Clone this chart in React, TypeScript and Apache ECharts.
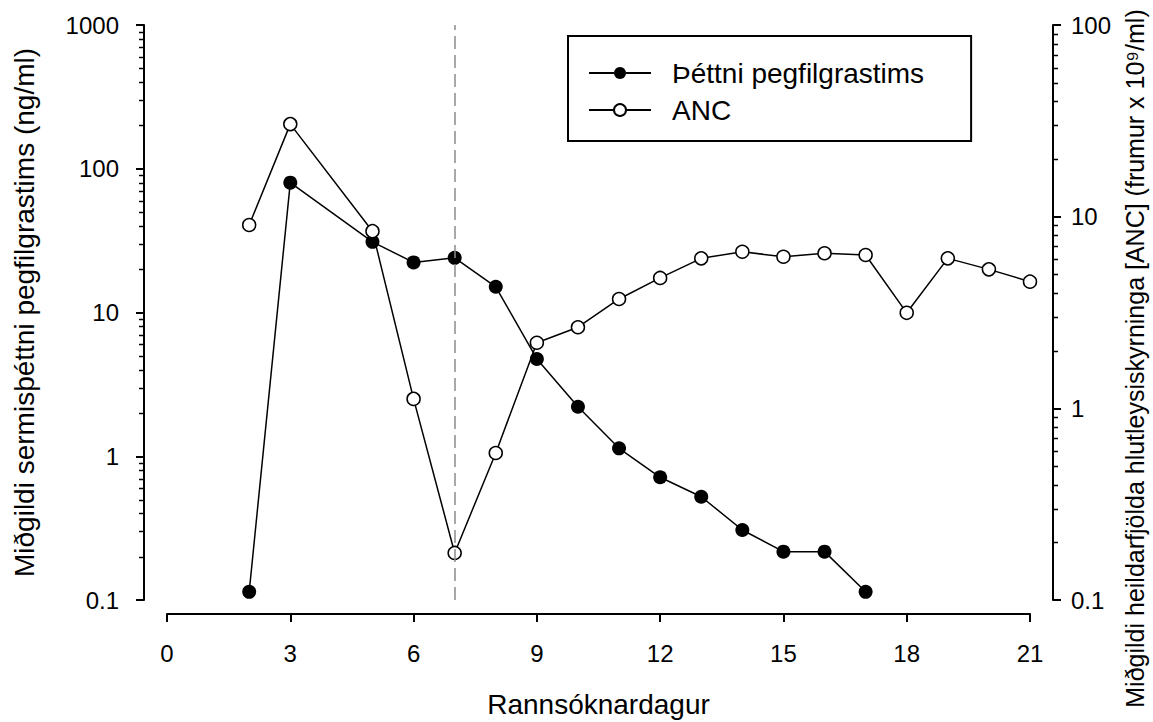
import { useEffect, useRef } from "react";
import * as echarts from "echarts";

// Study day (x) and medians
const pegDays = [2, 3, 5, 6, 7, 8, 9, 10, 11, 12, 13, 14, 15, 16, 17];
const pegValues = [0.114, 80, 31, 22.3, 24, 15.1, 4.75, 2.21, 1.135, 0.714, 0.523, 0.307, 0.217, 0.217, 0.114];

const ancDays = [2, 3, 5, 6, 7, 8, 9, 10, 11, 12, 13, 14, 15, 16, 17, 18, 19, 20, 21];
const ancValues = [9.05, 30.4, 8.4, 1.12, 0.176, 0.585, 2.2, 2.65, 3.72, 4.79, 6.06, 6.56, 6.18, 6.44, 6.31, 3.15, 6.06, 5.31, 4.58];

const pegName = "Þéttni pegfilgrastims";
const ancName = "ANC";
const xTitle = "Rannsóknardagur";
const leftTitle = "Miðgildi sermisþéttni pegfilgrastims (ng/ml)";
const rightTitle = "Miðgildi heildarfjölda hlutleysiskyrninga [ANC] (frumur x 10⁹/ml)";

const xMin = 0;
const xMax = 21;
const xInterval = 3;
const referenceDay = 7;

const leftMin = 0.1;
const leftMax = 1000;
const rightMin = 0.1;
const rightMax = 100;
const leftDecades = [0.1, 1, 10, 100];
const rightDecades = [0.1, 1, 10];
const minorMultipliers = [2, 3, 4, 5, 6, 7, 8, 9];

const FONT = '"Liberation Sans", Arial, sans-serif';
const Y_OFFSET = 23;

function minorValues(decades: number[]) {
  const out: number[][] = [];
  decades.forEach((d) => minorMultipliers.forEach((m) => out.push([0, Number((d * m).toPrecision(6))])));
  return out;
}

function fmt(v: number) {
  return String(Number(Number(v).toPrecision(6)));
}

export default function App() {
  const ref = useRef<HTMLDivElement>(null);
  useEffect(() => {
    if (!ref.current) return;
    const chart = echarts.init(ref.current, null, { renderer: "svg" });
    const minorTick = (side: "left" | "right") => (params: any, api: any) => {
      const y = Math.round(api.coord([0, api.value(1)])[1]) + 0.5;
      const cs = params.coordSys;
      if (side === "left") {
        const x0 = cs.x - Y_OFFSET;
        return { type: "line", shape: { x1: x0 - 5, y1: y, x2: x0 + 1, y2: y }, style: { stroke: "#000", lineWidth: 1.5 }, silent: true, z2: 10 };
      }
      const x0 = cs.x + cs.width + Y_OFFSET;
      return { type: "line", shape: { x1: x0 - 1, y1: y, x2: x0 + 5, y2: y }, style: { stroke: "#000", lineWidth: 1.5 }, silent: true, z2: 10 };
    };
    const option: any = {
      animation: false,
      backgroundColor: "#fff",
      textStyle: { fontFamily: FONT, color: "#000" },
      grid: { left: 167, right: 123, top: 25, bottom: 122, outerBoundsMode: "none", containLabel: false },
      legend: {
        data: [pegName, ancName],
        orient: "vertical",
        left: 568,
        top: 36,
        itemWidth: 62,
        itemHeight: 15,
        itemGap: 9,
        padding: [23, 47, 17, 20],
        borderColor: "#000",
        borderWidth: 2,
        textStyle: { fontSize: 28, color: "#000", fontFamily: FONT, padding: [0, 0, 0, 16] },
      },
      xAxis: {
        type: "value",
        min: xMin,
        max: xMax,
        interval: xInterval,
        offset: 14,
        name: xTitle,
        nameLocation: "middle",
        nameGap: 76,
        nameTextStyle: { fontSize: 28, color: "#000", fontFamily: FONT },
        axisLine: { show: true, onZero: false, lineStyle: { color: "#000", width: 2 } },
        axisTick: { show: true, length: 8, inside: false, lineStyle: { color: "#000", width: 2 } },
        axisLabel: { fontSize: 24, color: "#000", margin: 27, fontFamily: FONT },
        splitLine: { show: false },
      },
      yAxis: [
        {
          type: "log",
          logBase: 10,
          min: leftMin,
          max: leftMax,
          position: "left",
          offset: Y_OFFSET,
          name: leftTitle,
          nameLocation: "middle",
          nameGap: 106,
          nameTextStyle: { fontSize: 28, color: "#000", fontFamily: FONT },
          axisLine: { show: true, onZero: false, lineStyle: { color: "#000", width: 2 } },
          axisTick: { show: true, length: 8, inside: false, lineStyle: { color: "#000", width: 2 } },
          axisLabel: { fontSize: 24, color: "#000", margin: 25, fontFamily: FONT, formatter: fmt },
          splitLine: { show: false },
        },
        {
          type: "log",
          logBase: 10,
          min: rightMin,
          max: rightMax,
          position: "right",
          offset: Y_OFFSET,
          name: rightTitle,
          nameLocation: "middle",
          nameGap: 69,
          nameTextStyle: { fontSize: 25, color: "#000", fontFamily: FONT, padding: [0, 92, 0, 0] },
          axisLine: { show: true, onZero: false, lineStyle: { color: "#000", width: 2 } },
          axisTick: { show: true, length: 8, inside: false, lineStyle: { color: "#000", width: 2 } },
          axisLabel: { fontSize: 24, color: "#000", margin: 18, fontFamily: FONT, formatter: fmt },
          splitLine: { show: false },
        },
      ],
      series: [
        {
          type: "custom",
          xAxisIndex: 0,
          yAxisIndex: 0,
          silent: true,
          clip: false,
          z: 5,
          encode: { x: 0, y: 1 },
          data: minorValues(leftDecades),
          renderItem: minorTick("left"),
        },
        {
          type: "custom",
          xAxisIndex: 0,
          yAxisIndex: 1,
          silent: true,
          clip: false,
          z: 5,
          encode: { x: 0, y: 1 },
          data: minorValues(rightDecades),
          renderItem: minorTick("right"),
        },
        {
          name: pegName,
          type: "line",
          xAxisIndex: 0,
          yAxisIndex: 0,
          data: pegDays.map((d, i) => [d, pegValues[i]]),
          symbol: "circle",
          symbolSize: 14,
          showAllSymbol: true,
          itemStyle: { color: "#000" },
          lineStyle: { color: "#000", width: 1.5 },
          z: 3,
        },
        {
          name: ancName,
          type: "line",
          xAxisIndex: 0,
          yAxisIndex: 1,
          data: ancDays.map((d, i) => [d, ancValues[i]]),
          symbol: "circle",
          symbolSize: 13,
          showAllSymbol: true,
          itemStyle: { color: "#fff", borderColor: "#000", borderWidth: 1.5 },
          lineStyle: { color: "#000", width: 1.5 },
          z: 4,
          markLine: {
            silent: true,
            symbol: ["none", "none"],
            label: { show: false },
            lineStyle: { color: "#8c8c8c", type: [13, 6], width: 1.5 },
            data: [{ xAxis: referenceDay }],
            z: 10,
          },
        },
      ],
    };
    chart.setOption(option);
    return () => chart.dispose();
  }, []);
  return (
    <div
      ref={ref}
      style={{ position: "fixed", left: 0, top: 0, width: 1153, height: 722, background: "#fff" }}
    />
  );
}
